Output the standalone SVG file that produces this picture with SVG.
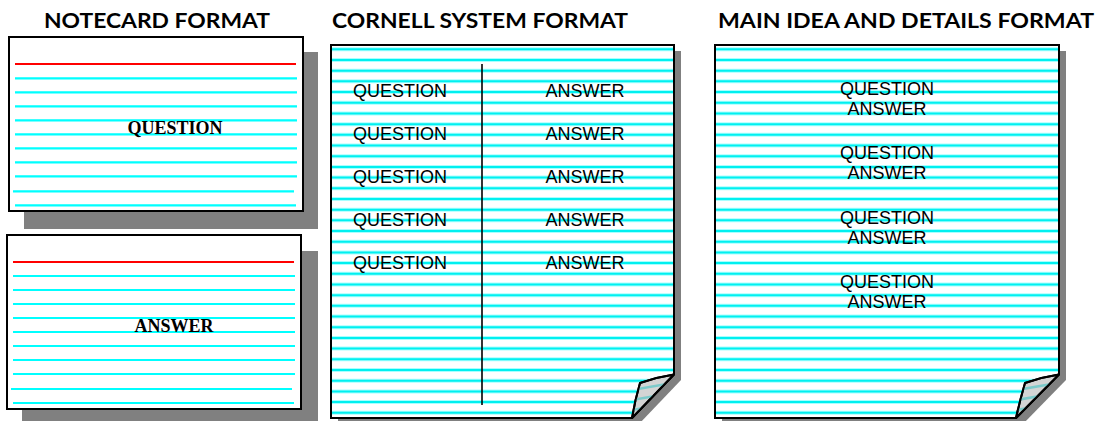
<svg xmlns="http://www.w3.org/2000/svg" width="1097" height="421" viewBox="0 0 1097 421">
<style>
.title{font-family:Lato,"Open Sans","Liberation Sans",sans-serif;font-weight:bold;font-size:21px;fill:#000;text-anchor:middle}
.card-text{font-family:"Liberation Serif",serif;font-weight:bold;font-size:18px;fill:#000;text-anchor:middle}
.page-text{font-family:"Liberation Sans",Arial,sans-serif;font-size:18px;fill:#000;text-anchor:middle}
.shadow{fill:#808080}
.card{fill:#fff;stroke:#000;stroke-width:2}
.red{stroke:#ff0000;stroke-width:2}
.cy{stroke:#00ffff;stroke-width:2.2}
.page{fill:none;stroke:#000;stroke-width:2;stroke-linejoin:miter}
.fr{stroke:#a8ffff;stroke-width:4;fill:none}
.core{stroke:#00f0f0;stroke-width:2;fill:none}
.flap{fill:#d4d4d4;stroke:#000;stroke-width:2;stroke-linejoin:round}
.flapline{stroke:#7ccaca;stroke-width:2.5;fill:none}
</style>
<defs>
<clipPath id="clipCornell"><path d="M331 45H674V374L632 418H331Z"/></clipPath>
<clipPath id="clipMain"><path d="M715 45H1059V374L1016 418H715Z"/></clipPath>
<clipPath id="clipFlapC"><path d="M674 374.5Q657 377 640 383Q635 400 632 418Z"/></clipPath>
<clipPath id="clipFlapM"><path d="M1059 374.5Q1042 377 1025 383Q1020 400 1016 418Z"/></clipPath>
</defs>

<g id="titles">
<text class="title" x="157" y="28" textLength="226" lengthAdjust="spacingAndGlyphs">NOTECARD FORMAT</text>
<text class="title" x="480" y="28" textLength="296" lengthAdjust="spacingAndGlyphs">CORNELL SYSTEM FORMAT</text>
<text class="title" x="906" y="28" textLength="376" lengthAdjust="spacingAndGlyphs">MAIN IDEA AND DETAILS FORMAT</text>
</g>

<g id="notecard-question">
<rect class="shadow" x="24" y="52" width="294" height="177"/>
<rect class="card" x="9" y="37" width="294" height="174"/>
<line class="red" x1="15" y1="64" x2="296" y2="64"/>
<path class="cy" d="M15 78.3H297M15 92.3H297M15 106.3H297M15 120.3H297M15 134.3H297M15 148.3H297M15 162.3H297M15 176.3H297M13 191.3H294M15 205.3H296"/>
<text class="card-text" x="175" y="134">QUESTION</text>
</g>

<g id="notecard-answer">
<rect class="shadow" x="22" y="251" width="296" height="170"/>
<rect class="card" x="7" y="235" width="294" height="174"/>
<line class="red" x1="13" y1="262" x2="294" y2="262"/>
<path class="cy" d="M13 276H295M13 290H295M13 304H295M13 318H295M13 332H295M13 346H295M13 360H295M13 374H295M11 389H292M13 403H294"/>
<text class="card-text" x="174" y="331.5">ANSWER</text>
</g>

<g id="cornell-page">
<path class="shadow" d="M338 51H681V380L639 424H338Z"/>
<path d="M331 45H674V374L632 418H331Z" fill="#fff"/>
<g clip-path="url(#clipCornell)">
<path class="fr" d="M331 49.3H676M331 59.99H676M331 70.68H676M331 81.37H676M331 92.06H676M331 102.75H676M331 113.44H676M331 124.13H676M331 134.82H676M331 145.51H676M331 156.2H676M331 166.89H676M331 177.58H676M331 188.27H676M331 198.96H676M331 209.65H676M331 220.34H676M331 231.03H676M331 241.72H676M331 252.41H676M331 263.1H676M331 273.79H676M331 284.48H676M331 295.17H676M331 305.86H676M331 316.55H676M331 327.24H676M331 337.93H676M331 348.62H676M331 359.31H676M331 370H676M331 380.69H676M331 391.38H676M331 402.07H676M331 412.76H676"/>
<path class="core" d="M331 49.3H676M331 59.99H676M331 70.68H676M331 81.37H676M331 92.06H676M331 102.75H676M331 113.44H676M331 124.13H676M331 134.82H676M331 145.51H676M331 156.2H676M331 166.89H676M331 177.58H676M331 188.27H676M331 198.96H676M331 209.65H676M331 220.34H676M331 231.03H676M331 241.72H676M331 252.41H676M331 263.1H676M331 273.79H676M331 284.48H676M331 295.17H676M331 305.86H676M331 316.55H676M331 327.24H676M331 337.93H676M331 348.62H676M331 359.31H676M331 370H676M331 380.69H676M331 391.38H676M331 402.07H676M331 412.76H676"/>
</g>
<path class="page" d="M331 45H674V374L632 418H331Z"/>
<path class="flap" d="M674 374.5Q657 377 640 383Q635 400 632 418Z"/>
<g clip-path="url(#clipFlapC)">
<path class="flapline" d="M620 392L690 380M620 402L690 390M620 412L690 400"/>
</g>
<path d="M674 374.5Q657 377 640 383Q635 400 632 418Z" fill="none" stroke="#000" stroke-width="2" stroke-linejoin="round"/>
<line x1="482" y1="64" x2="482" y2="405" stroke="#000" stroke-width="1.6"/>
<text class="page-text" x="400" y="97.3">QUESTION</text>
<text class="page-text" x="585" y="97.3">ANSWER</text>
<text class="page-text" x="400" y="140.3">QUESTION</text>
<text class="page-text" x="585" y="140.3">ANSWER</text>
<text class="page-text" x="400" y="183.3">QUESTION</text>
<text class="page-text" x="585" y="183.3">ANSWER</text>
<text class="page-text" x="400" y="226.3">QUESTION</text>
<text class="page-text" x="585" y="226.3">ANSWER</text>
<text class="page-text" x="400" y="269.3">QUESTION</text>
<text class="page-text" x="585" y="269.3">ANSWER</text>
</g>

<g id="main-idea-page">
<path class="shadow" d="M722 51H1066V380L1023 424H722Z"/>
<path d="M715 45H1059V374L1016 418H715Z" fill="#fff"/>
<g clip-path="url(#clipMain)">
<path class="fr" d="M715 49.3H1061M715 59.99H1061M715 70.68H1061M715 81.37H1061M715 92.06H1061M715 102.75H1061M715 113.44H1061M715 124.13H1061M715 134.82H1061M715 145.51H1061M715 156.2H1061M715 166.89H1061M715 177.58H1061M715 188.27H1061M715 198.96H1061M715 209.65H1061M715 220.34H1061M715 231.03H1061M715 241.72H1061M715 252.41H1061M715 263.1H1061M715 273.79H1061M715 284.48H1061M715 295.17H1061M715 305.86H1061M715 316.55H1061M715 327.24H1061M715 337.93H1061M715 348.62H1061M715 359.31H1061M715 370H1061M715 380.69H1061M715 391.38H1061M715 402.07H1061M715 412.76H1061"/>
<path class="core" d="M715 49.3H1061M715 59.99H1061M715 70.68H1061M715 81.37H1061M715 92.06H1061M715 102.75H1061M715 113.44H1061M715 124.13H1061M715 134.82H1061M715 145.51H1061M715 156.2H1061M715 166.89H1061M715 177.58H1061M715 188.27H1061M715 198.96H1061M715 209.65H1061M715 220.34H1061M715 231.03H1061M715 241.72H1061M715 252.41H1061M715 263.1H1061M715 273.79H1061M715 284.48H1061M715 295.17H1061M715 305.86H1061M715 316.55H1061M715 327.24H1061M715 337.93H1061M715 348.62H1061M715 359.31H1061M715 370H1061M715 380.69H1061M715 391.38H1061M715 402.07H1061M715 412.76H1061"/>
</g>
<path class="page" d="M715 45H1059V374L1016 418H715Z"/>
<path class="flap" d="M1059 374.5Q1042 377 1025 383Q1020 400 1016 418Z"/>
<g clip-path="url(#clipFlapM)">
<path class="flapline" d="M1005 392L1075 380M1005 402L1075 390M1005 412L1075 400"/>
</g>
<path d="M1059 374.5Q1042 377 1025 383Q1020 400 1016 418Z" fill="none" stroke="#000" stroke-width="2" stroke-linejoin="round"/>
<text class="page-text" x="887" y="95">QUESTION</text>
<text class="page-text" x="887" y="115">ANSWER</text>
<text class="page-text" x="887" y="159.3">QUESTION</text>
<text class="page-text" x="887" y="179.3">ANSWER</text>
<text class="page-text" x="887" y="223.6">QUESTION</text>
<text class="page-text" x="887" y="243.6">ANSWER</text>
<text class="page-text" x="887" y="288">QUESTION</text>
<text class="page-text" x="887" y="308">ANSWER</text>
</g>

<g id="connectors"/>
</svg>
